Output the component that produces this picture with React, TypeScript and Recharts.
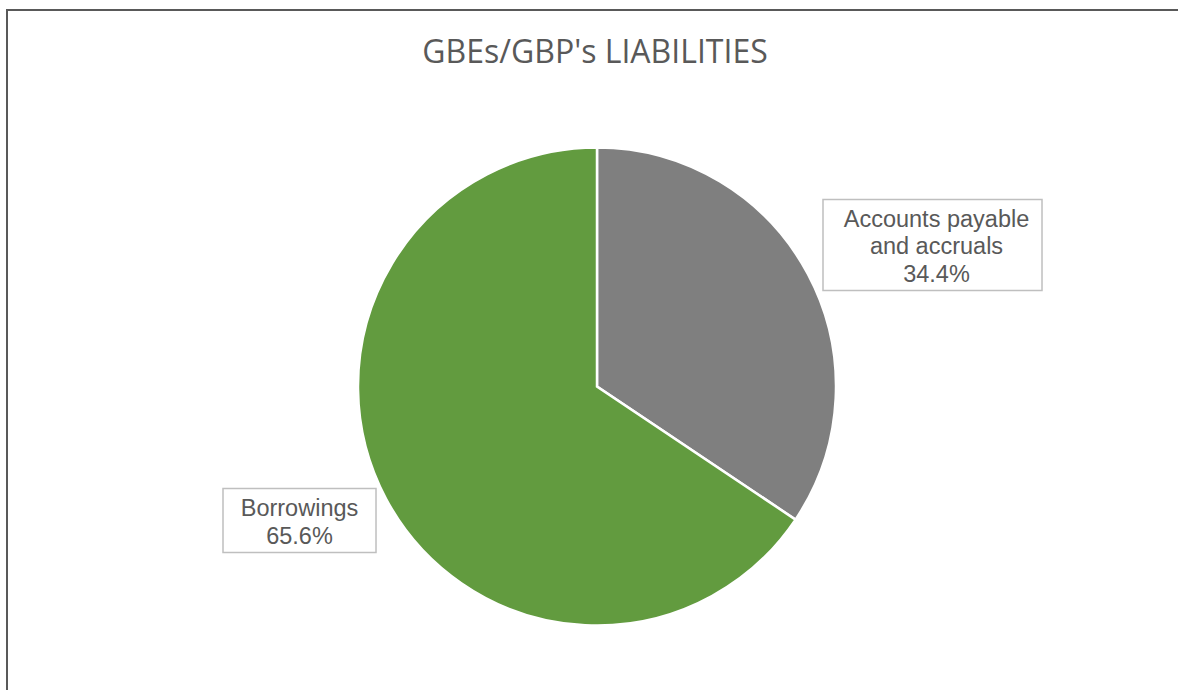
import { PieChart, Pie, Cell } from "recharts";

const categories = ["Accounts payable and accruals", "Borrowings"];
const labelLines = [["Accounts payable", "and accruals"], ["Borrowings"]];
const shares = [34.4, 65.6];
const colors = ["#7F7F7F", "#629B3F"];

// label box placement relative to the pie centre (layout only)
const boxes = [
  { dx: 226, dy: -187, w: 219, h: 91 },
  { dx: -374, dy: 102, w: 153, h: 64 },
];

const data = categories.map((name, i) => ({ name, value: shares[i] }));

const FONT = "'Liberation Sans', Arial, sans-serif";

function renderLabel(props: any) {
  const { cx, cy, index, value } = props;
  const b = boxes[index];
  const x = cx + b.dx;
  const y = cy + b.dy;
  const lines = [...labelLines[index], `${Number(value).toFixed(1)}%`];
  const mid = x + b.w / 2;
  const top = (b.h - lines.length * 27.5) / 2;
  return (
    <g>
      <rect x={x} y={y} width={b.w} height={b.h} fill="#fff" stroke="#BFBFBF" strokeWidth={1.5} />
      {lines.map((l, i) => (
        <text
          key={i}
          x={mid + (index === 0 ? 4 : 0)}
          y={y + top + 23 + i * 27.5}
          textAnchor="middle"
          fill="#595959"
          fontSize={23.5}
          fontFamily={FONT}
        >
          {l}
        </text>
      ))}
    </g>
  );
}

export default function App() {
  return (
    <div style={{ position: "absolute", left: 0, top: 0, width: 1178, height: 690, background: "#fff", overflow: "hidden" }}>
      <div
        style={{
          position: "absolute",
          left: 6,
          top: 9,
          width: 1172,
          height: 681,
          boxSizing: "border-box",
          borderLeft: "2px solid #595959",
          borderTop: "2px solid #595959",
        }}
      />
      <div
        style={{
          position: "absolute",
          left: 0,
          width: 1190,
          top: 29,
          textAlign: "center",
          fontFamily: "'Open Sans', sans-serif",
          fontSize: 32,
          lineHeight: "normal",
          color: "#595959",
        }}
      >
        GBEs/GBP's LIABILITIES
      </div>
      <div style={{ position: "absolute", left: 0, top: 0 }}>
        <PieChart width={1178} height={690} margin={{ top: 0, right: 0, bottom: 0, left: 0 }}>
          <Pie
            data={data}
            dataKey="value"
            nameKey="name"
            cx={597}
            cy={386.5}
            outerRadius={239}
            startAngle={90}
            endAngle={-270}
            stroke="#fff"
            strokeWidth={2.5}
            label={renderLabel}
            labelLine={false}
            isAnimationActive={false}
          >
            {data.map((d, i) => (
              <Cell key={d.name} fill={colors[i]} />
            ))}
          </Pie>
        </PieChart>
      </div>
    </div>
  );
}
